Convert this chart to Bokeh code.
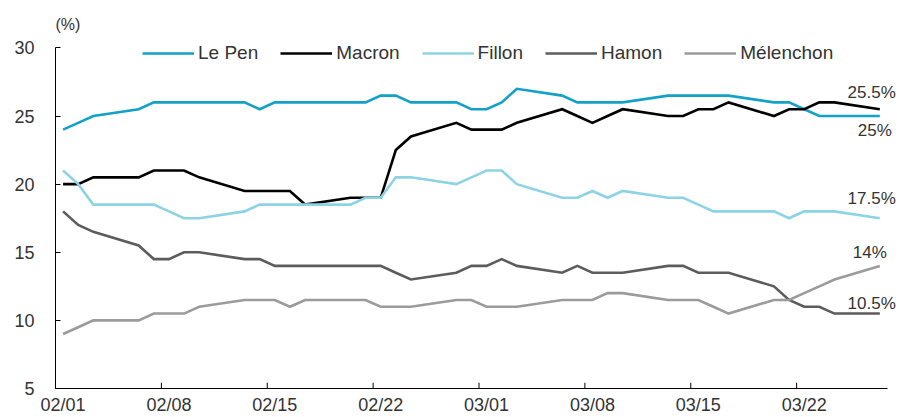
from datetime import date

from bokeh.plotting import figure
from bokeh.models import Range1d, FixedTicker, Legend, LegendItem, Label
from bokeh.embed import file_html
from bokeh.resources import INLINE

# Daily (weekday) poll averages, first round voting intentions (%)
poll_dates = [
    "2017-02-01", "2017-02-02", "2017-02-03", "2017-02-06", "2017-02-07",
    "2017-02-08", "2017-02-09", "2017-02-10", "2017-02-13", "2017-02-14",
    "2017-02-15", "2017-02-16", "2017-02-17", "2017-02-20", "2017-02-21",
    "2017-02-22", "2017-02-23", "2017-02-24", "2017-02-27", "2017-02-28",
    "2017-03-01", "2017-03-02", "2017-03-03", "2017-03-06", "2017-03-07",
    "2017-03-08", "2017-03-09", "2017-03-10", "2017-03-13", "2017-03-14",
    "2017-03-15", "2017-03-16", "2017-03-17", "2017-03-20", "2017-03-21",
    "2017-03-22", "2017-03-23", "2017-03-24", "2017-03-27",
]
le_pen = [24, 24.5, 25, 25.5, 26, 26, 26, 26, 26, 25.5,
          26, 26, 26, 26, 26, 26.5, 26.5, 26, 26, 25.5,
          25.5, 26, 27, 26.5, 26, 26, 26, 26, 26.5, 26.5,
          26.5, 26.5, 26.5, 26, 26, 25.5, 25, 25, 25]
macron = [20, 20, 20.5, 20.5, 21, 21, 21, 20.5, 19.5, 19.5,
          19.5, 19.5, 18.5, 19, 19, 19, 22.5, 23.5, 24.5, 24,
          24, 24, 24.5, 25.5, 25, 24.5, 25, 25.5, 25, 25,
          25.5, 25.5, 26, 25, 25.5, 25.5, 26, 26, 25.5]
fillon = [21, 20, 18.5, 18.5, 18.5, 18, 17.5, 17.5, 18, 18.5,
          18.5, 18.5, 18.5, 18.5, 19, 19, 20.5, 20.5, 20, 20.5,
          21, 21, 20, 19, 19, 19.5, 19, 19.5, 19, 19,
          18.5, 18, 18, 18, 17.5, 18, 18, 18, 17.5]
hamon = [18, 17, 16.5, 15.5, 14.5, 14.5, 15, 15, 14.5, 14.5,
         14, 14, 14, 14, 14, 14, 13.5, 13, 13.5, 14,
         14, 14.5, 14, 13.5, 14, 13.5, 13.5, 13.5, 14, 14,
         13.5, 13.5, 13.5, 12.5, 11.5, 11, 11, 10.5, 10.5]
melenchon = [9, 9.5, 10, 10, 10.5, 10.5, 10.5, 11, 11.5, 11.5,
             11.5, 11, 11.5, 11.5, 11.5, 11, 11, 11, 11.5, 11.5,
             11, 11, 11, 11.5, 11.5, 11.5, 12, 12, 11.5, 11.5,
             11.5, 11, 10.5, 11.5, 11.5, 12, 12.5, 13, 14]

series_names = ["Le Pen", "Macron", "Fillon", "Hamon", "Mélenchon"]
series_values = [le_pen, macron, fillon, hamon, melenchon]
series_colors = ["#12a1c7", "#000000", "#8dd3e6", "#5c5c5c", "#9b9b9b"]

tick_dates = ["2017-02-01", "2017-02-08", "2017-02-15", "2017-02-22",
              "2017-03-01", "2017-03-08", "2017-03-15", "2017-03-22"]
tick_labels = ["02/01", "02/08", "02/15", "02/22",
               "03/01", "03/08", "03/15", "03/22"]
y_ticks = [5, 10, 15, 20, 25, 30]

FONT = "Liberation Sans"
TEXT = "#333333"

start = date(2017, 2, 1)


def day_index(s):
    return (date.fromisoformat(s) - start).days


# each day occupies one unit; points sit in the middle of their day
x = [day_index(d) + 0.5 for d in poll_dates]
tick_pos = [day_index(d) for d in tick_dates]
label_pos = [t + 0.5 for t in tick_pos]

# the frame reaches the top and right edges so that the legend, the unit
# label and the end labels are not clipped; the axis lines stop at 30 and
# at the last day through their bounds
p = figure(width=902, height=417, output_backend="svg", toolbar_location=None,
           x_range=Range1d(0, 56.0), y_range=Range1d(5, 33.48),
           min_border_left=55, min_border_right=0,
           min_border_top=0, min_border_bottom=27)
p.outline_line_color = None
p.xgrid.visible = False
p.ygrid.visible = False
p.background_fill_color = "white"
p.border_fill_color = "white"

# x axis: labels centred on their day, short tick marks on the day boundary
xa = p.xaxis[0]
xa.bounds = (0, 55)
xa.ticker = FixedTicker(ticks=label_pos)
xa.major_label_overrides = {lp: lab for lp, lab in zip(label_pos, tick_labels)}
xa.major_tick_in = 0
xa.major_tick_out = 0
xa.minor_tick_in = 0
xa.minor_tick_out = 0
xa.axis_line_color = "black"
xa.axis_line_width = 1
xa.major_label_standoff = 6
xa.major_label_text_font = FONT
xa.major_label_text_font_size = "18px"
xa.major_label_text_color = TEXT

ya = p.yaxis[0]
ya.bounds = (5, 30)
ya.ticker = FixedTicker(ticks=y_ticks)
ya.major_tick_in = 5
ya.major_tick_out = 0
ya.minor_tick_in = 0
ya.minor_tick_out = 0
ya.major_tick_line_color = "black"
ya.axis_line_color = "black"
ya.axis_line_width = 1
ya.major_label_standoff = 21
ya.major_label_text_font = FONT
ya.major_label_text_font_size = "18px"
ya.major_label_text_color = TEXT

p.segment(x0=tick_pos[1:], y0=[5] * (len(tick_pos) - 1),
          x1=tick_pos[1:], y1=[5.42] * (len(tick_pos) - 1),
          line_color="black", line_width=1)

renderers = []
for name, vals, col in zip(series_names, series_values, series_colors):
    r = p.line(x, vals, line_color=col, line_width=2.6, line_join="miter")
    renderers.append((name, r))

legend = Legend(items=[LegendItem(label=n, renderers=[r]) for n, r in renderers],
                orientation="horizontal", location=(87, 324),
                glyph_width=52, glyph_height=20, label_height=20,
                label_standoff=4, spacing=22, padding=0, margin=0,
                border_line_color=None, background_fill_alpha=0,
                label_text_font=FONT, label_text_font_size="19px",
                label_text_color=TEXT)
p.add_layout(legend)

p.add_layout(Label(x=0, y=30, x_offset=0, y_offset=23, text="(%)",
                   text_font=FONT, text_font_size="16px", text_color=TEXT,
                   text_align="left", text_baseline="middle"))

# end-of-series value labels
last_x = x[-1]
end_labels = [
    (le_pen[-1], "25%", 12, -14),
    (macron[-1], "25.5%", 16, 17),
    (fillon[-1], "17.5%", 16, 20),
    (melenchon[-1], "14%", 7, 13),
    (hamon[-1], "10.5%", 16, 10),
]
for yv, txt, dx, dy in end_labels:
    p.add_layout(Label(x=last_x, y=yv, x_offset=dx, y_offset=dy, text=txt,
                       text_font=FONT, text_font_size="17px", text_color=TEXT,
                       text_align="right", text_baseline="middle"))

open("out.html", "w").write(file_html(p, INLINE))
